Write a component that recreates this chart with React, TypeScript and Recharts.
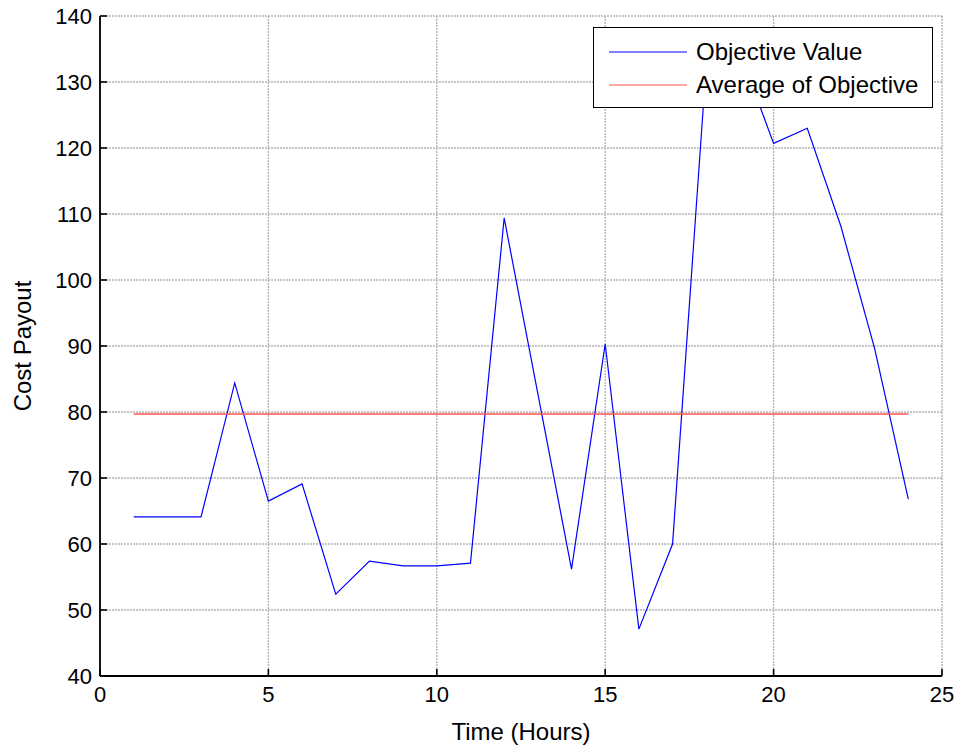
import React from "react";
import {
  LineChart,
  Line,
  XAxis,
  YAxis,
  CartesianGrid,
  Legend,
  Label,
} from "recharts";

const FONT = '"Liberation Sans", Arial, Helvetica, sans-serif';

const hours = [1, 2, 3, 4, 5, 6, 7, 8, 9, 10, 11, 12, 13, 14, 15, 16, 17, 18, 19, 20, 21, 22, 23, 24];
const objectiveValue = [
  64.1, 64.1, 64.1, 84.4, 66.5, 69.1, 52.4, 57.4, 56.7, 56.7, 57.1, 109.4,
  82.8, 56.2, 90.3, 47.1, 60.0, 132.6, 134.5, 120.7, 123.0, 108.1, 89.6, 66.8,
];
const averageOfObjective = 79.7;

const seriesNames = ["Objective Value", "Average of Objective"];
const xTicks = [0, 5, 10, 15, 20, 25];
const yTicks = [40, 50, 60, 70, 80, 90, 100, 110, 120, 130, 140];

const data = hours.map((h, i) => ({
  hour: h,
  objective: objectiveValue[i],
  average: averageOfObjective,
}));

const TICK_LEN = 7;
const AXIS = { stroke: "#000", strokeWidth: 1.8 };

// bottom axis: label below, tick mark pointing up into the plot
const BottomTick = (props: any) => {
  const { x, y, payload } = props;
  const axisY = y - 10;
  return (
    <g>
      <line x1={x} x2={x} y1={axisY} y2={axisY - TICK_LEN} stroke="#000" strokeWidth={1.6} />
      <text x={x} y={y} dy="0.71em" textAnchor="middle" fontSize={22} fontFamily={FONT} fill="#000">
        {payload.value}
      </text>
    </g>
  );
};

const TopTick = (props: any) => {
  const { x, y } = props;
  return <line x1={x} x2={x} y1={y} y2={y + TICK_LEN} stroke="#000" strokeWidth={1.6} />;
};

const LeftTick = (props: any) => {
  const { x, y, payload } = props;
  const axisX = x + 8;
  return (
    <g>
      <line x1={axisX} x2={axisX + TICK_LEN} y1={y} y2={y} stroke="#000" strokeWidth={1.6} />
      <text x={x} y={y} dy="0.355em" textAnchor="end" fontSize={22} fontFamily={FONT} fill="#000">
        {payload.value}
      </text>
    </g>
  );
};

const RightTick = (props: any) => {
  const { x, y } = props;
  return <line x1={x} x2={x - TICK_LEN} y1={y} y2={y} stroke="#000" strokeWidth={1.6} />;
};

const LegendBox = (props: any) => {
  const items = [...(props.payload || [])].sort(
    (a: any, b: any) => seriesNames.indexOf(a.value) - seriesNames.indexOf(b.value)
  );
  return (
    <div
      style={{
        border: "1.5px solid #000",
        background: "#fff",
        width: 340,
        height: 81,
        boxSizing: "border-box",
        paddingTop: 7,
        fontFamily: FONT,
        fontSize: 24,
        color: "#000",
      }}
    >
      {items.map((entry: any) => (
        <div key={entry.value} style={{ display: "flex", alignItems: "center", height: 33 }}>
          <svg width={102} height={10}>
            <line x1={15} x2={93} y1={5} y2={5} stroke={entry.color} strokeWidth={1} />
          </svg>
          <span style={{ lineHeight: "24px" }}>{entry.value}</span>
        </div>
      ))}
    </div>
  );
};

export default function App() {
  return (
    <div style={{ position: "absolute", left: 0, top: 0, width: 963, height: 751, background: "#fff", fontFamily: FONT }}>
      <LineChart width={963} height={751} data={data} margin={{ top: 16, right: 21, bottom: 0, left: 0 }}>
        <CartesianGrid stroke="#b2b2b2" strokeDasharray="2 1" strokeWidth={1.3} />
        <XAxis
          dataKey="hour"
          type="number"
          domain={[0, 25]}
          ticks={xTicks}
          height={75}
          tickSize={0}
          tickMargin={10}
          tick={<BottomTick />}
          axisLine={AXIS}
          tickLine={false}
        >
          <Label value="Time (Hours)" position="insideBottom" offset={11} fontSize={24} fill="#000" />
        </XAxis>
        <XAxis
          xAxisId="top"
          orientation="top"
          type="number"
          domain={[0, 25]}
          ticks={xTicks}
          height={0}
          tickSize={0}
          tickMargin={0}
          tick={<TopTick />}
          axisLine={AXIS}
          tickLine={false}
        />
        <YAxis
          type="number"
          domain={[40, 140]}
          ticks={yTicks}
          width={100}
          tickSize={0}
          tickMargin={8}
          tick={<LeftTick />}
          axisLine={AXIS}
          tickLine={false}
        >
          <Label
            value="Cost Payout"
            angle={-90}
            position="insideLeft"
            offset={22}
            fontSize={24}
            fill="#000"
            style={{ textAnchor: "middle" }}
          />
        </YAxis>
        <YAxis
          yAxisId="right"
          orientation="right"
          type="number"
          domain={[40, 140]}
          ticks={yTicks}
          width={0}
          tickSize={0}
          tickMargin={0}
          tick={<RightTick />}
          axisLine={AXIS}
          tickLine={false}
        />
        <Legend
          layout="vertical"
          align="center"
          verticalAlign="middle"
          content={<LegendBox />}
          wrapperStyle={{ left: 593, top: 27, width: 340 }}
        />
        <Line
          name="Objective Value"
          type="linear"
          dataKey="objective"
          stroke="#0000ff"
          strokeWidth={1.2}
          dot={false}
          isAnimationActive={false}
        />
        <Line
          name="Average of Objective"
          type="linear"
          dataKey="average"
          stroke="#ff5050"
          strokeWidth={1.6}
          dot={false}
          isAnimationActive={false}
        />
      </LineChart>
    </div>
  );
}
